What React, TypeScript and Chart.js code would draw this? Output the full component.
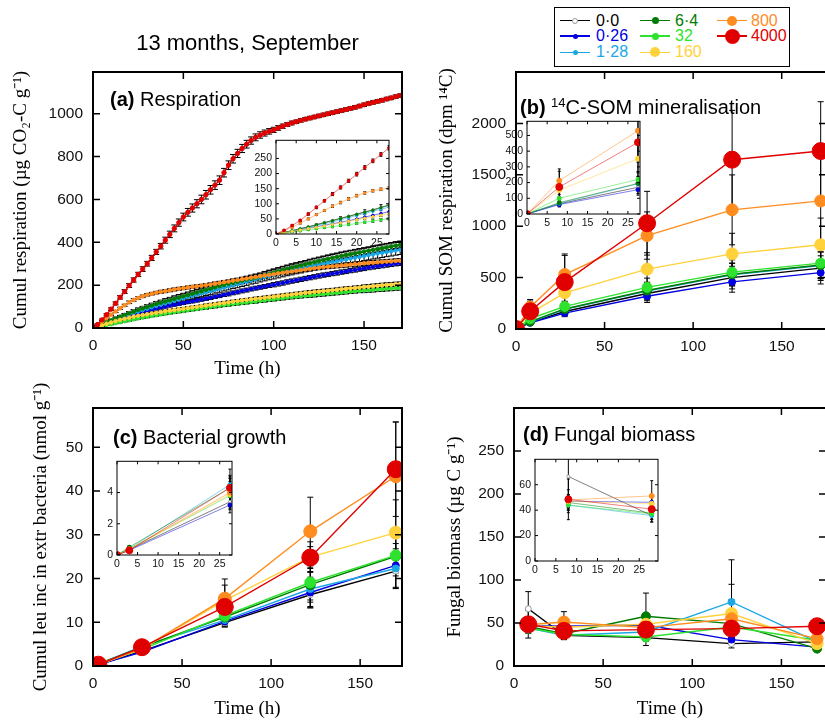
import React, { useEffect, useRef } from 'react';
import { Chart, registerables } from 'chart.js';

Chart.register(...registerables);

const SANS = "'Liberation Sans', Arial, sans-serif";
const SERIF = "'Liberation Serif', 'Times New Roman', serif";

// ---- Series ----
const seriesLabels = ['0·0', '0·26', '1·28', '6·4', '32', '160', '800', '4000'];
const seriesColors = ['#000000', '#0000e0', '#1aa7e6', '#007c00', '#2de32d', '#ffd23c', '#ff8c1f', '#e00000'];

// ---- (a) Respiration, main ----
const respT = [0, 2.5, 5, 7.5, 10, 12.5, 15, 17.5, 20, 22.5, 25, 27.5, 30, 32.5, 35, 37.5, 40, 42.5, 45, 47.5, 50, 52.5, 55, 57.5, 60, 62.5, 65, 67.5, 70, 72.5, 75, 77.5, 80, 82.5, 85, 87.5, 90, 92.5, 95, 97.5, 100, 102.5, 105, 107.5, 110, 112.5, 115, 117.5, 120, 122.5, 125, 127.5, 130, 132.5, 135, 137.5, 140, 142.5, 145, 147.5, 150, 152.5, 155, 157.5, 160, 162.5, 165, 167.5, 170];
const resp4000 = [0, 16, 38, 62, 88, 115, 143, 170, 198, 224, 250, 275, 300, 327, 355, 382, 410, 437, 465, 492, 518, 540, 560, 580, 600, 622, 645, 667, 690, 725, 760, 790, 815, 838, 858, 875, 890, 901, 910, 918, 925, 934, 942, 950, 957, 963, 969, 975, 980, 985, 990, 995, 1000, 1005, 1010, 1015, 1020, 1025, 1030, 1036, 1042, 1048, 1053, 1058, 1063, 1069, 1074, 1080, 1085];
const resp800 = [0, 15, 30, 46, 62, 77, 92, 106, 120, 131, 140, 148, 155, 160, 165, 169, 172, 176, 180, 183, 186, 189, 192, 195, 197, 200, 203, 207, 210, 214, 217, 221, 224, 228, 231, 235, 238, 242, 245, 248, 251, 255, 258, 261, 264, 267, 270, 273, 276, 279, 281, 284, 286, 288, 290, 292, 294, 296, 298, 300, 302, 304, 305, 307, 308, 310, 311, 313, 314];
const resp64 = [0, 9, 18, 27, 35, 44, 52, 60, 68, 76, 84, 91, 98, 105, 112, 118, 124, 130, 136, 142, 148, 154, 160, 166, 172, 178, 184, 190, 196, 201, 206, 211, 216, 221, 226, 230, 235, 240, 246, 252, 258, 264, 270, 276, 282, 287, 292, 297, 302, 307, 312, 317, 322, 327, 331, 336, 340, 344, 348, 352, 356, 360, 364, 368, 372, 376, 380, 384, 387];
const resp00 = [0, 9, 18, 27, 36, 45, 53, 61, 70, 78, 86, 93, 100, 107, 114, 120, 126, 132, 138, 144, 150, 156, 162, 168, 174, 180, 186, 192, 198, 203, 208, 213, 218, 223, 228, 233, 238, 243, 249, 255, 261, 267, 273, 279, 285, 290, 295, 300, 305, 310, 315, 320, 325, 330, 334, 339, 343, 347, 351, 355, 359, 363, 367, 371, 375, 379, 383, 387, 390];
const resp128 = [0, 8, 16, 24, 32, 40, 48, 56, 63, 70, 77, 84, 90, 97, 103, 109, 115, 121, 127, 133, 139, 145, 150, 156, 161, 167, 172, 178, 183, 189, 194, 200, 205, 211, 216, 222, 227, 233, 238, 243, 248, 253, 258, 263, 268, 273, 277, 282, 286, 291, 295, 300, 304, 308, 312, 316, 320, 324, 328, 332, 336, 340, 344, 348, 351, 355, 358, 362, 365];
const resp026 = [0, 7, 14, 21, 28, 35, 42, 49, 55, 62, 68, 74, 80, 85, 90, 95, 100, 105, 109, 113, 117, 121, 125, 129, 133, 137, 141, 146, 150, 155, 159, 164, 168, 173, 177, 182, 186, 190, 194, 198, 202, 206, 210, 215, 219, 223, 227, 231, 235, 239, 243, 247, 250, 254, 257, 261, 264, 268, 271, 275, 278, 282, 285, 288, 291, 294, 297, 300, 302];
const resp160 = [0, 7, 13, 20, 26, 32, 38, 43, 48, 53, 57, 61, 64, 68, 71, 75, 78, 81, 84, 87, 90, 93, 96, 99, 102, 105, 108, 111, 114, 117, 120, 123, 126, 129, 131, 134, 136, 139, 141, 144, 146, 149, 151, 154, 156, 159, 161, 164, 166, 168, 170, 172, 174, 176, 178, 181, 183, 185, 187, 189, 191, 193, 195, 197, 199, 201, 202, 204, 205];
const resp32 = [0, 5, 9, 14, 18, 23, 27, 32, 36, 41, 45, 49, 53, 57, 60, 64, 67, 71, 74, 77, 80, 83, 86, 89, 92, 95, 98, 101, 104, 107, 109, 112, 114, 117, 119, 122, 124, 127, 129, 132, 134, 137, 139, 142, 144, 146, 148, 150, 152, 154, 156, 158, 160, 162, 164, 166, 168, 170, 172, 174, 175, 177, 178, 180, 181, 183, 184, 186, 187];
const respErr4000 = [0, 3, 4, 5, 6, 7, 8, 9, 9, 10, 10, 11, 11, 12, 12, 13, 14, 15, 16, 17, 18, 18, 19, 19, 20, 20, 20, 20, 20, 20, 20, 20, 19, 19, 18, 17, 16, 15, 14, 13, 12, 11, 10, 9, 9, 8, 8, 8, 8, 8, 8, 8, 8, 8, 8, 8, 8, 8, 8, 8, 8, 8, 8, 8, 8, 8, 8, 8, 8];
const respErr800 = [0, 2, 3, 4, 4, 5, 5, 5, 6, 6, 6, 6, 6, 6, 6, 7, 7, 7, 7, 7, 7, 7, 7, 7, 7, 7, 8, 8, 8, 8, 8, 8, 8, 8, 8, 8, 8, 8, 8, 8, 9, 9, 9, 9, 9, 9, 9, 9, 9, 9, 9, 9, 9, 9, 9, 10, 10, 10, 10, 10, 10, 10, 10, 10, 10, 10, 10, 10, 10];
const respErrTop = [0, 2, 3, 4, 5, 6, 6, 7, 7, 8, 8, 8, 9, 9, 10, 10, 11, 11, 12, 12, 12, 12, 12, 12, 13, 13, 13, 13, 13, 13, 14, 14, 14, 14, 14, 14, 14, 14, 15, 15, 15, 15, 15, 15, 15, 15, 15, 15, 16, 16, 16, 16, 16, 16, 16, 16, 16, 16, 16, 16, 16, 16, 16, 16, 16, 16, 16, 16, 16];
const respErr128 = [0, 2, 3, 4, 5, 6, 6, 7, 7, 8, 8, 8, 9, 9, 10, 10, 11, 11, 12, 12, 13, 13, 14, 14, 15, 15, 15, 15, 16, 16, 16, 16, 17, 17, 17, 17, 18, 18, 18, 18, 19, 19, 19, 19, 20, 20, 20, 20, 20, 20, 21, 21, 21, 21, 21, 21, 21, 21, 22, 22, 22, 22, 22, 22, 22, 22, 22, 22, 22];
const respErr026 = [0, 1, 2, 3, 3, 4, 4, 5, 5, 5, 5, 6, 6, 6, 6, 7, 7, 7, 7, 7, 7, 7, 8, 8, 8, 8, 8, 8, 8, 8, 9, 9, 9, 9, 9, 9, 9, 9, 9, 9, 10, 10, 10, 10, 10, 10, 10, 10, 10, 10, 10, 10, 10, 10, 10, 10, 10, 10, 10, 10, 10, 10, 10, 10, 10, 10, 10, 10, 10];
const respErrLow = [0, 1, 2, 2, 3, 3, 3, 4, 4, 4, 4, 5, 5, 5, 5, 5, 5, 6, 6, 6, 6, 6, 6, 6, 6, 7, 7, 7, 7, 7, 7, 7, 7, 7, 7, 7, 8, 8, 8, 8, 8, 8, 8, 8, 8, 8, 8, 8, 9, 9, 9, 9, 9, 9, 9, 9, 9, 9, 9, 9, 10, 10, 10, 10, 10, 10, 10, 10, 10];

// ---- (a) Respiration, inset (first 28 h) ----
const respInT = [0, 2, 4, 6, 8, 10, 12, 14, 16, 18, 20, 22, 24, 26, 28];
const respIn4000 = [0, 12, 28, 45, 66, 88, 110, 132, 154, 176, 198, 220, 242, 263, 285];
const respIn800 = [0, 10, 22, 36, 50, 64, 78, 92, 104, 116, 127, 136, 143, 148, 152];
const respIn00 = [0, 5, 11, 18, 24, 31, 38, 45, 52, 59, 66, 73, 80, 88, 96];
const respIn64 = [0, 5, 11, 17, 23, 30, 37, 44, 51, 58, 65, 72, 79, 87, 95];
const respIn128 = [0, 5, 10, 16, 22, 28, 34, 40, 47, 54, 61, 68, 75, 82, 89];
const respIn026 = [0, 4, 9, 14, 19, 24, 29, 34, 39, 44, 50, 56, 62, 68, 74];
const respIn160 = [0, 4, 9, 13, 18, 22, 27, 32, 37, 42, 47, 52, 57, 62, 67];
const respIn32 = [0, 3, 7, 10, 14, 17, 21, 24, 28, 31, 35, 39, 43, 47, 51];
const respInErr4000 = [0, 2, 3, 3, 4, 4, 4, 5, 5, 5, 6, 6, 6, 6, 7];
const respInErr800 = [0, 2, 2, 3, 3, 3, 3, 4, 4, 4, 4, 4, 4, 4, 4];
const respInErr64 = [0, 0, 0, 0, 0, 4, 0, 0, 6, 0, 0, 8, 0, 10, 0];
const respInErrLow = [0, 1, 2, 2, 2, 2, 3, 3, 3, 3, 3, 3, 4, 4, 4];

// ---- (b) 14C-SOM mineralisation ----
const somT = [0, 8, 27.5, 74, 122, 172];
const som4000 = [0, 172, 456, 1029, 1647, 1731];
const som800 = [0, 212, 530, 909, 1159, 1246];
const som160 = [0, 152, 352, 582, 731, 819];
const som32 = [0, 100, 220, 405, 553, 641];
const som64 = [0, 72, 195, 375, 532, 622];
const som128 = [0, 68, 192, 370, 528, 618];
const som00 = [0, 65, 170, 345, 500, 592];
const som026 = [0, 60, 155, 318, 458, 548];
const somErr4000 = [0, 115, 260, 310, 480, 480];
const somErr800 = [0, 60, 200, 230, 340, 420];
const somErr160 = [0, 40, 90, 160, 200, 260];
const somErr32 = [0, 25, 50, 90, 120, 140];
const somErr64 = [0, 20, 45, 80, 110, 130];
const somErr128 = [0, 20, 45, 80, 110, 130];
const somErr00 = [0, 15, 40, 70, 110, 120];
const somErr026 = [0, 15, 35, 60, 100, 110];

// ---- (c) Bacterial growth ----
const leuT = [0, 3, 27.5, 74, 122, 170];
const leu4000 = [0, 0.3, 4.3, 13.5, 24.8, 45.0];
const leu800 = [0, 0.35, 4.0, 15.4, 30.8, 43.4];
const leu160 = [0, 0.35, 3.9, 15.0, 24.9, 30.5];
const leu32 = [0, 0.4, 3.8, 11.5, 19.1, 25.3];
const leu64 = [0, 0.5, 4.3, 11.2, 18.6, 25.1];
const leu128 = [0, 0.4, 4.5, 10.5, 17.6, 22.3];
const leu026 = [0, 0.3, 3.2, 10.2, 16.8, 23.0];
const leu00 = [0, 0.35, 3.4, 9.9, 16.3, 21.7];
const leuErr4000 = [0, 0.1, 1.2, 3.0, 2.5, 10.8];
const leuErr800 = [0, 0.1, 1.0, 4.5, 7.8, 12.4];
const leuErr160 = [0, 0.1, 0.8, 3.5, 3.5, 7.5];
const leuErr32 = [0, 0.1, 0.6, 1.5, 4.0, 4.0];
const leuErr64 = [0, 0.1, 0.6, 1.5, 4.0, 4.5];
const leuErr128 = [0, 0.1, 0.6, 1.2, 4.0, 4.5];
const leuErr026 = [0, 0.1, 0.5, 1.2, 3.5, 5.0];
const leuErr00 = [0, 0.1, 0.5, 1.0, 3.0, 4.0];

// ---- (d) Fungal biomass ----
const fungT = [8, 28, 74, 122, 170];
const fung4000 = [48.5, 40.8, 42.3, 43.5, 46.2];
const fung800 = [48, 51.2, 44.6, 55, 31.8];
const fung160 = [47, 45, 48.5, 61, 26];
const fung32 = [44, 37, 33.8, 45.4, 30];
const fung64 = [46, 37.6, 57.8, 49.3, 20.2];
const fung128 = [44, 35.7, 39.6, 74.5, 28];
const fung026 = [47, 46.2, 47.7, 30.7, 22];
const fung00 = [66.5, 35.7, 33, 26, 28];
const fungErr4000 = [16, 5, 5, 5, 5];
const fungErr800 = [8, 12, 6, 22, 4];
const fungErr160 = [5, 5, 6, 34, 5];
const fungErr32 = [4, 4, 10, 5, 4];
const fungErr64 = [5, 5, 27, 5, 3];
const fungErr128 = [6, 5, 5, 49, 5];
const fungErr026 = [5, 4, 4, 5, 3];
const fungErr00 = [20, 5, 4, 5, 3];

// ---- Tick labels ----
const timeTicks = [0, 50, 100, 150];
const insetTimeTicks = [0, 5, 10, 15, 20, 25];
const respTicks = [0, 200, 400, 600, 800, 1000];
const respInTicks = [0, 50, 100, 150, 200, 250];
const somTicks = [0, 500, 1000, 1500, 2000];
const somInTicks = [0, 100, 200, 300, 400, 500];
const leuTicks = [0, 10, 20, 30, 40, 50];
const leuInTicks = [0, 2, 4];
const fungTicks = [0, 50, 100, 150, 200, 250];
const fungInTicks = [0, 20, 40, 60];

// series order: 0·0, 0·26, 1·28, 6·4, 32, 160, 800, 4000
const respVals = [resp00, resp026, resp128, resp64, resp32, resp160, resp800, resp4000];
const respErrs = [respErrTop, respErr026, respErr128, respErrTop, respErrLow, respErrLow, respErr800, respErr4000];
const respInVals = [respIn00, respIn026, respIn128, respIn64, respIn32, respIn160, respIn800, respIn4000];
const respInErrs = [null, null, null, respInErr64, respInErrLow, respInErrLow, respInErr800, respInErr4000];
const somVals = [som00, som026, som128, som64, som32, som160, som800, som4000];
const somErrs = [somErr00, somErr026, somErr128, somErr64, somErr32, somErr160, somErr800, somErr4000];
const leuVals = [leu00, leu026, leu128, leu64, leu32, leu160, leu800, leu4000];
const leuErrs = [leuErr00, leuErr026, leuErr128, leuErr64, leuErr32, leuErr160, leuErr800, leuErr4000];
const fungVals = [fung00, fung026, fung128, fung64, fung32, fung160, fung800, fung4000];
const fungErrs = [fungErr00, fungErr026, fungErr128, fungErr64, fungErr32, fungErr160, fungErr800, fungErr4000];

const radiiA = [1.8, 1.8, 1.8, 1.8, 1.8, 1.8, 1.8, 2.2];
const radiiB = [3, 3.5, 3.5, 4.5, 5, 6, 6, 8.5];
const radiiC = [3, 3.5, 3.5, 5, 5.5, 6.5, 6.5, 8.5];
const radiiIn = [1.5, 2, 2, 2, 2, 2.5, 2.5, 3.5];
const radiiInA = [1.2, 1.2, 1.2, 1.2, 1.2, 1.2, 1.2, 1.4];

function rgba(hex: string, a: number) {
  const n = parseInt(hex.slice(1), 16);
  return `rgba(${(n >> 16) & 255},${(n >> 8) & 255},${n & 255},${a})`;
}

const drawOrder = [7, 6, 5, 4, 3, 2, 1, 0];

function makeDatasets(times: number[], vals: number[][], errs: (number[] | null)[], radii: number[], lw: number, alpha: number, maxX?: number) {
  return drawOrder.map((i) => {
    const pts: { x: number; y: number }[] = [];
    const eb: number[] = [];
    times.forEach((t, j) => {
      if (maxX === undefined || t <= maxX) {
        pts.push({ x: t, y: vals[i][j] });
        eb.push(errs[i] ? (errs[i] as number[])[j] : 0);
      }
    });
    return {
      label: seriesLabels[i],
      data: pts,
      errorBars: eb,
      borderColor: rgba(seriesColors[i], alpha),
      borderWidth: lw,
      pointRadius: radii[i],
      pointBackgroundColor: i === 0 ? '#ffffff' : seriesColors[i],
      pointBorderColor: i === 0 ? '#9a9a9a' : seriesColors[i],
      pointBorderWidth: 1,
      tension: 0,
      fill: false,
    };
  });
}

const framePlugin = {
  id: 'frame',
  beforeDraw(chart: any, _a: any, opts: any) {
    if (!opts.fill) return;
    const { ctx, chartArea: c } = chart;
    ctx.save();
    ctx.fillStyle = '#ffffff';
    ctx.fillRect(c.left, c.top, c.right - c.left, c.bottom - c.top);
    ctx.restore();
  },
  afterDraw(chart: any, _a: any, opts: any) {
    const { ctx, chartArea: c } = chart;
    const xs = chart.scales.x, ys = chart.scales.y;
    ctx.save();
    ctx.strokeStyle = '#000';
    ctx.lineWidth = opts.tw;
    ctx.beginPath();
    xs.ticks.forEach((t: any) => {
      const px = xs.getPixelForValue(t.value);
      ctx.moveTo(px, c.bottom); ctx.lineTo(px, c.bottom - opts.tl);
      ctx.moveTo(px, c.top); ctx.lineTo(px, c.top + opts.tl);
    });
    ys.ticks.forEach((t: any) => {
      const py = ys.getPixelForValue(t.value);
      ctx.moveTo(c.left, py); ctx.lineTo(c.left + opts.tl, py);
      ctx.moveTo(c.right, py); ctx.lineTo(c.right - opts.tl, py);
    });
    ctx.stroke();
    ctx.lineWidth = opts.lw;
    ctx.strokeRect(c.left, c.top, c.right - c.left, c.bottom - c.top);
    ctx.restore();
  },
};

const errorBarPlugin = {
  id: 'errbars',
  beforeDatasetsDraw(chart: any, _a: any, opts: any) {
    const { ctx, chartArea: c } = chart;
    const xs = chart.scales.x, ys = chart.scales.y;
    const cap = opts.cap;
    ctx.save();
    ctx.beginPath();
    ctx.rect(c.left, c.top, c.right - c.left, c.bottom - c.top);
    ctx.clip();
    ctx.strokeStyle = '#000';
    ctx.lineWidth = opts.lw;
    chart.data.datasets.forEach((ds: any) => {
      const eb = ds.errorBars;
      if (!eb) return;
      ds.data.forEach((pt: any, j: number) => {
        const e = eb[j];
        if (!e) return;
        const x = xs.getPixelForValue(pt.x);
        const yT = ys.getPixelForValue(pt.y + e);
        const yB = ys.getPixelForValue(pt.y - e);
        ctx.beginPath();
        ctx.moveTo(x, yT); ctx.lineTo(x, yB);
        ctx.moveTo(x - cap, yT); ctx.lineTo(x + cap, yT);
        ctx.moveTo(x - cap, yB); ctx.lineTo(x + cap, yB);
        ctx.stroke();
      });
    });
    ctx.restore();
  },
};

type Panel = {
  id: string;
  canvas: { x: number; y: number; w: number; h: number };
  plot: { l: number; t: number; r: number; b: number };
  xMax: number; yMax: number;
  xTicks: number[]; yTicks: number[];
  xTitle?: string; yTitle?: string;
  inset: boolean;
  cap?: number;
  datasets: any[];
};

function buildConfig(p: Panel): any {
  const yW = p.plot.l - p.canvas.x;
  const xH = p.canvas.y + p.canvas.h - p.plot.b;
  const tickSize = p.inset ? 10.5 : 15.5;
  return {
    type: 'line',
    data: { datasets: p.datasets },
    plugins: [framePlugin, errorBarPlugin],
    options: {
      animation: false,
      responsive: false,
      maintainAspectRatio: false,
      events: [],
      layout: { padding: { left: 0, top: p.plot.t - p.canvas.y, right: p.canvas.x + p.canvas.w - p.plot.r, bottom: 0 } },
      plugins: {
        legend: { display: false },
        tooltip: { enabled: false },
        frame: p.inset ? { lw: 1, tl: 3, tw: 1, fill: true } : { lw: 2, tl: 7, tw: 1.5, fill: false },
        errbars: { cap: p.cap ?? (p.inset ? 1.5 : 3), lw: 1 },
      },
      scales: {
        x: {
          type: 'linear', position: 'bottom', bounds: 'data', min: 0, max: p.xMax,
          grid: { display: false, drawTicks: false }, border: { display: false },
          ticks: { font: { family: SANS, size: tickSize }, color: '#111', padding: p.inset ? 3 : 8, maxRotation: 0, autoSkip: false, callback: (v: any) => String(v) },
          title: p.xTitle ? { display: true, text: p.xTitle, font: { family: SERIF, size: 19 }, color: '#000', padding: 0 } : { display: false },
          afterBuildTicks: (s: any) => { s.ticks = p.xTicks.map((v) => ({ value: v })); },
          afterFit: (s: any) => { s.height = xH; },
        },
        y: {
          type: 'linear', position: 'left', bounds: 'data', min: 0, max: p.yMax,
          grid: { display: false, drawTicks: false }, border: { display: false },
          ticks: { font: { family: SANS, size: tickSize }, color: '#111', padding: p.inset ? 4 : 10, autoSkip: false, callback: (v: any) => String(v) },
          title: p.yTitle ? { display: true, text: p.yTitle, font: { family: SERIF, size: 19 }, color: '#000', padding: 0 } : { display: false },
          afterBuildTicks: (s: any) => { s.ticks = p.yTicks.map((v) => ({ value: v })); },
          afterFit: (s: any) => { s.width = yW; },
        },
      },
    },
  };
}

const panels: Panel[] = [
  {
    id: 'a', canvas: { x: 10, y: 50, w: 402, h: 330 }, plot: { l: 93, t: 72, r: 402, b: 328 },
    xMax: 171, yMax: 1195, xTicks: timeTicks, yTicks: respTicks,
    xTitle: 'Time (h)', yTitle: 'Cumul respiration (µg CO₂-C g⁻¹)', inset: false, cap: 3,
    datasets: makeDatasets(respT, respVals, respErrs, radiiA, 1.4, 1),
  },
  {
    id: 'b', canvas: { x: 436, y: 50, w: 400, h: 320 }, plot: { l: 516, t: 72, r: 826, b: 329 },
    xMax: 175, yMax: 2500, xTicks: timeTicks, yTicks: somTicks,
    yTitle: 'Cumul SOM respiration (dpm ¹⁴C)', inset: false,
    datasets: makeDatasets(somT, somVals, somErrs, radiiB, 1.4, 1),
  },
  {
    id: 'c', canvas: { x: 30, y: 380, w: 382, h: 340 }, plot: { l: 93, t: 408, r: 402, b: 666 },
    xMax: 173.5, yMax: 59, xTicks: timeTicks, yTicks: leuTicks,
    xTitle: 'Time (h)', yTitle: 'Cumul leu inc in extr bacteria (nmol g⁻¹)', inset: false,
    datasets: makeDatasets(leuT, leuVals, leuErrs, radiiC, 1.4, 1),
  },
  {
    id: 'd', canvas: { x: 444, y: 380, w: 392, h: 340 }, plot: { l: 514, t: 408, r: 826, b: 666 },
    xMax: 175, yMax: 300, xTicks: timeTicks, yTicks: fungTicks,
    xTitle: 'Time (h)', yTitle: 'Fungal biomass (µg C g⁻¹)', inset: false,
    datasets: makeDatasets(fungT, fungVals, fungErrs, radiiB, 1.4, 1),
  },
  {
    id: 'ai', canvas: { x: 250, y: 130, w: 145, h: 122 }, plot: { l: 276, t: 140, r: 389, b: 234 },
    xMax: 28, yMax: 310, xTicks: insetTimeTicks, yTicks: respInTicks, inset: true,
    datasets: makeDatasets(respInT, respInVals, respInErrs, radiiInA, 1, 0.55),
  },
  {
    id: 'bi', canvas: { x: 500, y: 111, w: 146, h: 121 }, plot: { l: 527, t: 121, r: 640, b: 214 },
    xMax: 28, yMax: 590, xTicks: insetTimeTicks, yTicks: somInTicks, inset: true,
    datasets: makeDatasets(somT, somVals, somErrs, radiiIn, 1, 0.5, 28),
  },
  {
    id: 'ci', canvas: { x: 95, y: 451, w: 143, h: 122 }, plot: { l: 117, t: 461, r: 232, b: 555 },
    xMax: 28, yMax: 6, xTicks: insetTimeTicks, yTicks: leuInTicks, inset: true,
    datasets: makeDatasets(leuT, leuVals, leuErrs, radiiIn, 1, 0.5, 28),
  },
  {
    id: 'di', canvas: { x: 510, y: 449, w: 154, h: 130 }, plot: { l: 535, t: 459, r: 658, b: 561 },
    xMax: 29.5, yMax: 80, xTicks: insetTimeTicks, yTicks: fungInTicks, inset: true,
    datasets: makeDatasets(fungT, fungVals, fungErrs, radiiIn, 1, 0.5, 29),
  },
];

function PanelCanvas({ p }: { p: Panel }) {
  const ref = useRef<HTMLCanvasElement>(null);
  useEffect(() => {
    const chart = new Chart(ref.current as HTMLCanvasElement, buildConfig(p));
    return () => chart.destroy();
  }, [p]);
  return (
    <canvas
      ref={ref}
      width={p.canvas.w}
      height={p.canvas.h}
      style={{ position: 'absolute', left: p.canvas.x, top: p.canvas.y, width: p.canvas.w, height: p.canvas.h }}
    />
  );
}

const legendCols = [
  { lineX: 560, textX: 596, items: [0, 1, 2] },
  { lineX: 640, textX: 675, items: [3, 4, 5] },
  { lineX: 717, textX: 751, items: [6, 7] },
];
const legendRows = [20.7, 36, 52.3];
const legendRadii = [3, 2.5, 2.5, 3.5, 3.5, 5, 5, 7.5];

function Legend() {
  const L = 554, T = 7;
  return (
    <div style={{ position: 'absolute', left: L, top: T, width: 236, height: 60, border: '1px solid #000', boxSizing: 'border-box', background: '#fff' }}>
      {legendCols.map((col, ci) =>
        col.items.map((si, ri) => {
          const cy = legendRows[ri] - T - 1;
          const lx = col.lineX - L - 1;
          const r = legendRadii[si];
          return (
            <React.Fragment key={`${ci}-${ri}`}>
              <div style={{ position: 'absolute', left: lx, top: cy - 0.6, width: 30, height: 1.2, background: seriesColors[si] }} />
              <div
                style={{
                  position: 'absolute', left: lx + 15 - r, top: cy - r, width: 2 * r, height: 2 * r, borderRadius: '50%',
                  boxSizing: 'border-box',
                  background: si === 0 ? '#fff' : seriesColors[si],
                  border: si === 0 ? '1px solid #9a9a9a' : 'none',
                }}
              />
              <span style={{ position: 'absolute', left: col.textX - L - 1, top: cy - 9, fontSize: 16, lineHeight: '18px', color: seriesColors[si], fontFamily: SANS, whiteSpace: 'nowrap' }}>
                {seriesLabels[si]}
              </span>
            </React.Fragment>
          );
        })
      )}
    </div>
  );
}

const labelStyle = (x: number, cy: number): React.CSSProperties => ({
  position: 'absolute', left: x, top: cy - 11, fontSize: 20, lineHeight: '22px', fontFamily: SANS, color: '#000', whiteSpace: 'nowrap',
});

export default function App() {
  return (
    <div style={{ position: 'absolute', left: 0, top: 0, width: 825, height: 720, overflow: 'hidden', background: '#fff' }}>
      {panels.map((p) => (
        <PanelCanvas key={p.id} p={p} />
      ))}
      <div style={{ position: 'absolute', left: 0, top: 30, width: 495, textAlign: 'center', fontSize: 22, lineHeight: '26px', fontFamily: SANS, color: '#000' }}>
        13 months, September
      </div>
      <Legend />
      <div style={labelStyle(110, 99.3)}><b>(a)</b> Respiration</div>
      <div style={labelStyle(520, 103.3)}><b>(b)</b> <sup style={{ fontSize: 13, verticalAlign: '7px' }}>14</sup>C-SOM mineralisation</div>
      <div style={labelStyle(113, 436.7)}><b>(c)</b> Bacterial growth</div>
      <div style={labelStyle(523, 434.3)}><b>(d)</b> Fungal biomass</div>
    </div>
  );
}
